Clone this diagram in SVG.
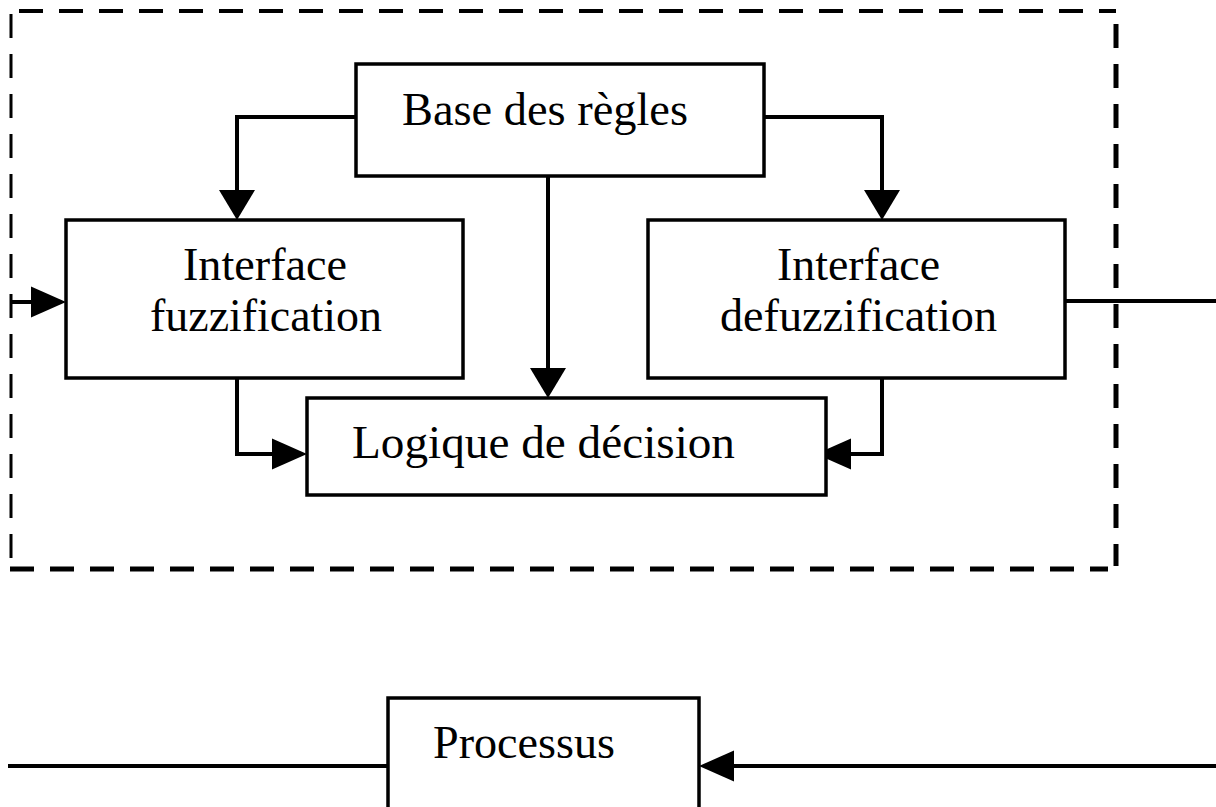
<svg xmlns="http://www.w3.org/2000/svg" width="1216" height="807" viewBox="0 0 1216 807">
<style>
.box{fill:#fff;stroke:#000;stroke-width:3.5}
.lbl{font-family:"Liberation Serif","Times New Roman",serif;font-size:46.5px;fill:#000;text-anchor:middle}
.con{fill:none;stroke:#000;stroke-width:4}
.dash{fill:none;stroke:#000;stroke-dasharray:24 16}
</style>
<defs>
<marker id="ahv" markerUnits="userSpaceOnUse" markerWidth="30" markerHeight="36" refX="0" refY="18" orient="auto" overflow="visible">
<path d="M0,0 L30,18 L0,36 Z" fill="#000"/>
</marker>
<marker id="ahh" markerUnits="userSpaceOnUse" markerWidth="35" markerHeight="31" refX="0" refY="15.5" orient="auto" overflow="visible">
<path d="M0,0 L35,15.5 L0,31 Z" fill="#000"/>
</marker>
</defs>
<rect width="1216" height="807" fill="#fff"/>
<g id="frame">
<line class="dash" x1="19" y1="11" x2="1116" y2="11" stroke-width="4"/>
<line class="dash" x1="11" y1="14" x2="11" y2="560" stroke-width="3" stroke-dasharray="22 15"/>
<line class="dash" x1="1116" y1="24" x2="1116" y2="566" stroke-width="5" stroke-dasharray="23 14"/>
<line class="dash" x1="10" y1="569" x2="1108" y2="569" stroke-width="5" stroke-dasharray="22 19"/>
</g>
<g id="connectors">
<path class="con" d="M356,117 H237 V190" marker-end="url(#ahv)"/>
<path class="con" d="M764,117 H882 V190" marker-end="url(#ahv)"/>
<path class="con" d="M548,176 V368" marker-end="url(#ahv)"/>
<path class="con" d="M237,378 V454 H272" marker-end="url(#ahh)"/>
<path class="con" d="M882,378 V454 H851" marker-end="url(#ahh)"/>
<path class="con" d="M11,302 H31" marker-end="url(#ahh)"/>
<path class="con" d="M1065,301 H1216" stroke-width="3"/>
<path class="con" d="M8,766 H388" stroke-width="3.5"/>
<path class="con" d="M1216,766 H734" stroke-width="4.5" marker-end="url(#ahh)"/>
</g>
<g id="base">
<rect class="box" x="356" y="64" width="408" height="112"/>
<text class="lbl" x="545" y="125" textLength="286" lengthAdjust="spacingAndGlyphs">Base des règles</text>
</g>
<g id="fuzz">
<rect class="box" x="66" y="220" width="397" height="158"/>
<text class="lbl" x="265" y="280" textLength="164" lengthAdjust="spacingAndGlyphs">Interface</text>
<text class="lbl" x="266" y="331" textLength="232" lengthAdjust="spacingAndGlyphs">fuzzification</text>
</g>
<g id="defuzz">
<rect class="box" x="648" y="220" width="417" height="158"/>
<text class="lbl" x="858.5" y="280" textLength="163" lengthAdjust="spacingAndGlyphs">Interface</text>
<text class="lbl" x="858.5" y="331" textLength="277" lengthAdjust="spacingAndGlyphs">defuzzification</text>
</g>
<g id="logique">
<rect class="box" x="307" y="398" width="519" height="97"/>
<text class="lbl" x="543.5" y="458" textLength="383" lengthAdjust="spacingAndGlyphs">Logique de décision</text>
</g>
<g id="processus">
<rect class="box" x="388" y="698" width="311" height="120"/>
<text class="lbl" x="524" y="758" textLength="182" lengthAdjust="spacingAndGlyphs">Processus</text>
</g>
</svg>
